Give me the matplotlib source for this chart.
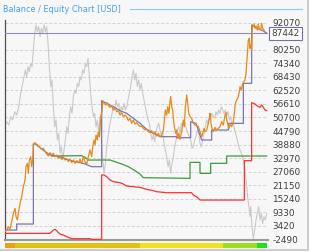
import numpy as np
import matplotlib
matplotlib.use('Agg')
import matplotlib.pyplot as plt
from matplotlib.lines import Line2D
from matplotlib.patches import Rectangle

# balance / equity chart, values in USD, x = bar number
ticks = [-2490, 3420, 9330, 15240, 21150, 27060, 32970, 38880, 44790,
         50700, 56610, 62520, 68430, 74340, 80250, 92070]
last_balance = 87442

balance_x = [0, 36, 36, 86, 86, 96, 111, 126, 136, 151, 166, 186, 211, 236, 261,
             291, 291, 306, 326, 346, 366, 386, 406, 426, 446, 466, 516, 516,
             558, 558, 574, 591, 621, 621, 671, 671, 716, 716, 741, 741, 756,
             771, 786]
balance_y = [1580, 1580, 4200, 4200, 39120, 38970, 36930, 35330, 34310, 33880,
             33590, 32420, 31400, 30680, 29220, 29220, 58030, 56860, 55410,
             53660, 52500, 50320, 48140, 45520, 43770, 42320, 42320, 41880,
             41880, 48860, 48140, 40860, 40860, 45230, 45230, 48140, 48140,
             65590, 65590, 91050, 89600, 88870, 87442]

equity_x = [0, 6, 11, 16, 21, 26, 31, 34, 38, 41, 46, 51, 56, 61, 64, 68, 71,
            74, 78, 81, 84, 86, 91, 96, 101, 106, 111, 116, 121, 126, 131, 136,
            141, 146, 151, 156, 161, 166, 171, 176, 181, 186, 191, 196, 201,
            206, 211, 216, 221, 226, 231, 236, 241, 246, 251, 256, 261, 264,
            268, 271, 274, 278, 281, 284, 286, 289, 292, 294, 298, 304, 308,
            312, 316, 321, 326, 331, 336, 341, 346, 351, 356, 361, 366, 371,
            376, 381, 386, 391, 396, 401, 406, 411, 416, 421, 426, 431, 436,
            441, 446, 451, 456, 461, 466, 471, 476, 479, 482, 486, 489, 493,
            496, 498, 501, 504, 506, 509, 513, 516, 519, 522, 526, 531, 536,
            539, 542, 546, 549, 552, 556, 561, 566, 571, 576, 581, 586, 591,
            594, 598, 601, 606, 611, 614, 616, 619, 622, 626, 631, 636, 641,
            646, 651, 656, 661, 664, 666, 669, 673, 676, 681, 686, 689, 692,
            696, 701, 704, 706, 710, 714, 718, 721, 724, 726, 728, 731, 734,
            736, 738, 741, 743, 746, 748, 751, 754, 758, 761, 764, 768, 771,
            774, 778, 781]
equity_y = [850, 1580, 3040, 1870, 5220, 8860, 11040, 7400, 5950, 8860, 13220,
            16130, 20490, 23400, 29220, 30680, 26310, 32130, 33590, 29220,
            32130, 39120, 39700, 38680, 37950, 37660, 36790, 37220, 35770,
            34750, 33880, 35330, 34310, 35040, 33590, 34310, 32860, 33590,
            32420, 33300, 32130, 32720, 31400, 32420, 30970, 32130, 30680,
            31840, 30970, 32420, 30680, 33590, 31400, 30390, 33590, 36500,
            33590, 37950, 40860, 38680, 43040, 40860, 44500, 42320, 46680,
            51770, 53230, 58030, 56860, 56140, 57160, 55700, 55120, 55700,
            53960, 54680, 53230, 53660, 51770, 52790, 51050, 51770, 51050,
            49300, 50320, 48140, 49590, 47840, 48430, 47410, 46680, 46970,
            45950, 45230, 45520, 44500, 44060, 44940, 43480, 44500, 42610,
            43770, 42320, 43040, 45230, 49590, 53960, 51770, 55410, 52500,
            57590, 59770, 55410, 53960, 50320, 46680, 43770, 45230, 41590,
            43770, 41150, 44500, 49590, 46680, 55410, 60500, 56860, 52500,
            51050, 50320, 48140, 47410, 46970, 46680, 44500, 42320, 43770,
            45950, 44500, 45230, 48140, 50320, 52500, 48140, 45950, 44500,
            46390, 45230, 45950, 46680, 48860, 47410, 51770, 52790, 49590,
            48140, 45950, 47840, 46680, 48860, 52500, 56860, 58320, 59770,
            61960, 64140, 62680, 65590, 66320, 67050, 69960, 74320, 77960,
            84510, 85230, 80870, 82320, 80140, 91050, 90330, 91490, 89600,
            90620, 88870, 91490, 89160, 88870, 91780, 89600, 88870, 88140]

price_x = [0, 6, 12, 18, 24, 30, 36, 42, 48, 54, 58, 62, 66, 70, 74, 78, 82,
           86, 90, 94, 98, 102, 106, 110, 114, 118, 122, 126, 130, 134, 138,
           142, 146, 150, 154, 158, 162, 166, 170, 174, 178, 182, 186, 190,
           194, 198, 202, 206, 210, 214, 218, 222, 226, 230, 234, 238, 242,
           246, 250, 254, 258, 262, 266, 270, 274, 278, 282, 286, 290, 294,
           298, 302, 306, 310, 314, 318, 322, 326, 330, 334, 338, 342, 346,
           350, 354, 358, 362, 366, 370, 374, 378, 382, 386, 390, 394, 398,
           402, 406, 410, 414, 418, 422, 426, 430, 434, 438, 442, 446, 450,
           454, 458, 462, 466, 470, 474, 478, 482, 486, 490, 494, 498, 502,
           506, 510, 514, 518, 522, 526, 530, 534, 538, 542, 546, 550, 554,
           558, 562, 566, 570, 574, 578, 582, 586, 590, 594, 598, 602, 606,
           610, 614, 618, 622, 626, 630, 634, 638, 642, 646, 650, 654, 658,
           662, 666, 670, 674, 678, 682, 686, 690, 694, 698, 702, 706, 710,
           714, 718, 722, 726, 730, 734, 736, 738, 742, 746, 750, 754, 758,
           762, 766, 770, 774, 778, 782, 786]
price_y = [46680, 48860, 47410, 51050, 49590, 53230, 51770, 55410, 61230,
           65590, 68500, 71410, 68500, 72870, 70680, 74320, 72870, 80140,
           87420, 91050, 88140, 90330, 85960, 89600, 87420, 91050, 88140,
           90330, 83050, 72870, 64140, 67050, 55410, 46680, 49590, 40860,
           43770, 35040, 37950, 32130, 36500, 40860, 46680, 43770, 51050,
           55410, 52500, 59770, 62680, 61230, 65590, 64140, 68500, 67050,
           71410, 69960, 74320, 72870, 76500, 68500, 61230, 55410, 51050,
           52500, 46680, 49590, 43770, 51050, 40860, 32130, 26310, 30680,
           37950, 42320, 46680, 49590, 52500, 55410, 53960, 58320, 55410,
           56860, 52500, 55410, 53960, 56860, 53960, 55410, 58320, 61230,
           64140, 68500, 71410, 67050, 69960, 64140, 67050, 62680, 65590,
           61230, 58320, 55410, 52500, 49590, 48140, 43770, 40860, 43040,
           40130, 44500, 46680, 48140, 45230, 42320, 44500, 39410, 36500,
           33590, 29220, 32130, 26310, 30680, 33590, 37950, 40860, 45230,
           46680, 43770, 48140, 46680, 49590, 48140, 45230, 43770, 42320,
           40860, 37220, 37950, 40860, 42320, 45230, 43770, 39410, 37950,
           40860, 43770, 46680, 49590, 48140, 51050, 50320, 52500, 51050,
           50320, 53230, 51770, 53960, 52500, 55410, 53960, 52500, 53960,
           51770, 53230, 49590, 51050, 47410, 48140, 45230, 43040, 40860,
           37950, 36500, 35040, 33590, 30680, 26310, 20490, 14670, 10310,
           7400, 11770, 3040, -2060, 1580, 5950, 8860, 11770, 5950, 8860,
           4490, 7400, 5950, 8860]

green_x = [140, 231, 241, 251, 316, 331, 351, 371, 391, 406, 416, 556, 556,
           586, 586, 618, 618, 666, 666, 786]
green_y = [33880, 34020, 33300, 32130, 32130, 31400, 30390, 29220, 27480,
           26020, 24420, 24130, 31110, 31110, 26310, 26310, 30680, 30680,
           33880, 33880]

red_x = [0, 136, 141, 146, 151, 156, 161, 166, 176, 186, 201, 256, 261, 291,
         291, 298, 306, 316, 326, 346, 356, 366, 386, 406, 426, 446, 456, 486,
         561, 566, 576, 586, 719, 719, 741, 741, 751, 758, 766, 771, 776, 781,
         786]
red_y = [130, 130, 860, 1580, 1870, 1290, 420, -160, -600, -1330, -2200,
         -2200, -2490, -2490, 25590, 25590, 24860, 23400, 22680, 22240, 21660,
         20780, 20490, 20200, 19330, 18740, 18310, 17870, 17870, 16850, 16120,
         14670, 14670, 31840, 31840, 57160, 56570, 55700, 55120, 56140, 55120,
         53960, 53660]

# coloured strip under the chart
strip_start = [0, 31, 406, 656, 756]
strip_width = [31, 375, 250, 100, 30]
strip_colors = ['#e9a213', '#e7c112', '#f2e11c', '#9ddf1c', '#22e016']

W, H = 314, 252
fig = plt.figure(figsize=(W / 100, H / 100), dpi=100)
fig.patch.set_facecolor('#f7f7f7')

ax = fig.add_axes([4.7 / W, 1 - 240.3 / H, 263.3 / W, 220.3 / H])
ax.set_facecolor('#f7f7f7')
ax.set_xlim(0, 790)
ax.set_ylim(-2900, 93230)

for t in ticks:
    ax.axhline(t, color='#d2d2d2', lw=0.7, ls=(0, (3, 2)), zorder=1)

ax.plot(price_x, price_y, color='#c9c9c9', lw=0.8, zorder=2)
ax.axhline(last_balance, color='#8c8cb4', lw=0.8, zorder=3)
ax.plot(green_x, green_y, color='#3c9c3c', lw=0.9, zorder=4)
ax.plot(red_x, red_y, color='#ff2f2f', lw=0.9, zorder=4)
ax.plot(balance_x, balance_y, color='#7676b0', lw=0.9, zorder=5)
ax.plot(equity_x, equity_y, color='#e8891a', lw=0.9, zorder=6)

for s in ['top', 'right']:
    ax.spines[s].set_visible(False)
ax.spines['left'].set_color('#505050')
ax.spines['left'].set_linewidth(0.9)
ax.spines['bottom'].set_color('#9a9a9a')
ax.spines['bottom'].set_linewidth(1.5)

ax.set_xticks([])
ax.yaxis.tick_right()
ax.set_yticks(ticks)
ax.set_yticklabels([str(t) for t in ticks])
ax.tick_params(axis='y', length=0, pad=3, labelsize=6.4, labelcolor='#404040')

ax.text(1.012, last_balance, str(last_balance), transform=ax.get_yaxis_transform(),
        fontsize=6.4, color='#404040', va='center', ha='left', zorder=10,
        bbox=dict(boxstyle='square,pad=0.25', fc='white', ec='#7070a8', lw=0.8))

ax2 = fig.add_axes([4.7 / W, 1 - 247.5 / H, 263.3 / W, 5 / H])
ax2.barh(0, strip_width, left=strip_start, color=strip_colors, height=1)
ax2.set_xlim(0, 790)
ax2.set_ylim(-0.5, 0.5)
ax2.axis('off')

fig.text(3 / W, 1 - 9.3 / H, 'Balance / Equity Chart [USD]', fontsize=5.9,
         color='#45a2ee', va='center', ha='left')
fig.add_artist(Line2D([130 / W, 302 / W], [1 - 9.3 / H, 1 - 9.3 / H],
                      color='#8cc8f0', lw=0.8))

# screenshot frame on the right and bottom
fig.add_artist(Rectangle((309 / W, 0), 5 / W, 1, color='white', lw=0))
fig.add_artist(Rectangle((0, 0), 1, 2 / H, color='white', lw=0))
fig.add_artist(Line2D([308 / W, 308 / W], [2.5 / H, 1], color='#c4c4c4', lw=1.2))
fig.add_artist(Line2D([0, 308 / W], [2.5 / H, 2.5 / H], color='#c4c4c4', lw=1.2))

fig.savefig('out.png', dpi=100)
